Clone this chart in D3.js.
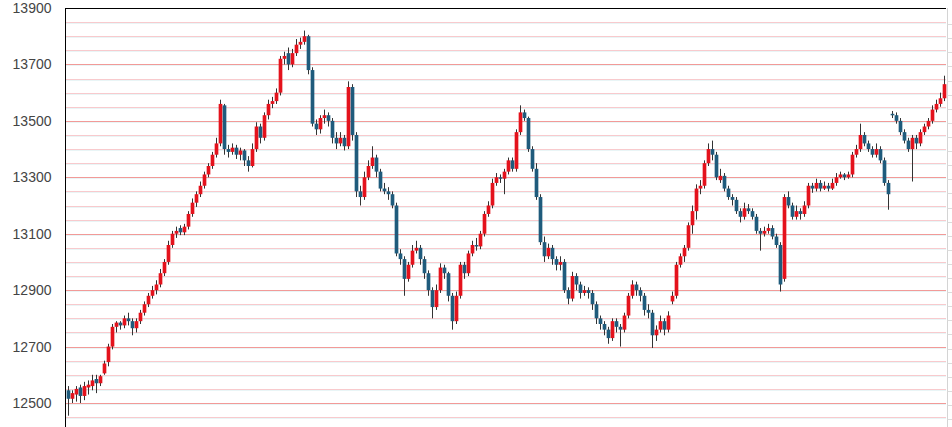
<!DOCTYPE html>
<html><head><meta charset="utf-8">
<script src="https://cdn.jsdelivr.net/npm/d3@7"></script>
<style>html,body{margin:0;padding:0;background:#fff;}svg{display:block;}</style>
</head><body>
<svg id="c" width="952" height="427"></svg>
<script>
const open = [12545,12515,12530,12555,12525,12555,12560,12585,12570,12605,12645,12700,12770,12785,12775,12800,12790,12765,12790,12820,12850,12880,12900,12920,12960,13000,13060,13100,13120,13105,13125,13170,13210,13240,13270,13310,13340,13380,13420,13555,13400,13390,13405,13380,13395,13360,13340,13400,13480,13440,13520,13560,13570,13600,13720,13740,13700,13740,13770,13780,13800,13680,13490,13470,13510,13520,13500,13440,13420,13440,13410,13620,13450,13250,13230,13300,13340,13370,13320,13260,13250,13240,13200,13030,13010,12940,12990,13040,13050,13010,12960,12900,12840,12900,12980,12960,12880,12790,12880,12990,12960,13030,13060,13055,13100,13170,13200,13280,13300,13295,13320,13360,13330,13460,13530,13510,13400,13330,13230,13070,13020,13050,13010,12990,13000,12900,12870,12950,12920,12890,12900,12890,12850,12800,12780,12760,12730,12790,12770,12760,12810,12880,12920,12900,12880,12830,12820,12740,12760,12790,12760,12860,12880,12990,13020,13050,13130,13180,13260,13270,13350,13400,13380,13290,13305,13260,13230,13220,13180,13160,13190,13180,13160,13110,13100,13110,13120,13090,13060,12940,13230,13200,13160,13180,13170,13200,13270,13260,13280,13260,13270,13260,13280,13300,13310,13300,13310,13380,13400,13450,13420,13400,13380,13400,13360,13280,13525,13520,13500,13460,13430,13400,13440,13420,13460,13480,13500,13540,13560,13580];
const high = [12560,12545,12560,12565,12575,12580,12600,12600,12600,12650,12710,12780,12790,12790,12810,12820,12800,12800,12830,12860,12890,12915,12935,12975,13010,13075,13110,13125,13130,13135,13180,13225,13250,13285,13320,13350,13390,13440,13575,13560,13415,13420,13415,13405,13400,13375,13420,13495,13490,13530,13575,13585,13615,13730,13745,13760,13755,13790,13795,13820,13805,13690,13505,13520,13540,13530,13510,13460,13460,13450,13640,13630,13460,13270,13320,13360,13410,13380,13330,13280,13265,13250,13210,13045,13020,13000,13060,13075,13060,13020,12970,12910,12920,12995,12990,12965,12890,12895,13000,13000,13040,13075,13085,13110,13180,13215,13295,13315,13310,13330,13370,13370,13470,13555,13540,13515,13410,13350,13240,13090,13065,13060,13020,13020,13010,12910,12965,12960,12930,12915,12910,12900,12860,12810,12790,12770,12800,12800,12780,12820,12890,12935,12930,12910,12890,12850,12830,12775,12810,12800,12825,12895,13000,13030,13060,13140,13200,13275,13290,13360,13420,13430,13390,13330,13315,13270,13240,13230,13190,13210,13205,13190,13170,13120,13125,13135,13130,13100,13070,13240,13250,13210,13200,13190,13215,13280,13280,13295,13290,13285,13280,13295,13315,13320,13315,13320,13390,13415,13490,13460,13430,13410,13420,13410,13370,13290,13535,13530,13510,13470,13440,13450,13450,13470,13490,13510,13555,13575,13600,13660];
const low = [12455,12500,12505,12500,12510,12530,12545,12535,12560,12600,12630,12690,12750,12760,12765,12775,12740,12750,12780,12810,12840,12870,12885,12910,12950,12990,13050,13085,13095,13095,13115,13160,13195,13230,13260,13300,13330,13370,13410,13380,13370,13380,13365,13360,13340,13320,13335,13390,13420,13430,13505,13545,13560,13590,13700,13680,13690,13730,13755,13770,13665,13480,13450,13455,13490,13480,13420,13400,13410,13395,13400,13430,13230,13200,13220,13290,13330,13300,13250,13240,13220,13190,13020,12990,12880,12930,12980,13030,12990,12940,12880,12800,12830,12890,12940,12860,12760,12780,12870,12940,12950,13020,13040,13045,13090,13160,13190,13270,13280,13240,13310,13320,13320,13450,13500,13390,13320,13220,13060,13000,13010,12990,12970,12970,12890,12850,12860,12900,12870,12880,12870,12830,12780,12760,12740,12710,12720,12750,12700,12750,12800,12870,12880,12860,12810,12800,12695,12720,12750,12740,12750,12850,12870,12980,13000,13040,13100,13150,13240,13260,13340,13360,13290,13280,13250,13220,13200,13170,13140,13150,13170,13150,13100,13040,13090,13100,13080,13050,12895,12930,13190,13150,13150,13150,13160,13190,13245,13250,13250,13255,13250,13255,13270,13295,13290,13295,13300,13370,13390,13410,13390,13370,13370,13350,13270,13185,13510,13490,13450,13420,13390,13285,13400,13410,13450,13470,13490,13530,13550,13570];
const close = [12515,12535,12550,12525,12560,12565,12580,12570,12595,12640,12700,12770,12785,12775,12800,12790,12765,12790,12820,12850,12880,12900,12920,12960,13000,13060,13100,13110,13105,13125,13170,13210,13240,13270,13310,13340,13380,13420,13560,13400,13390,13405,13380,13395,13360,13340,13400,13480,13440,13520,13560,13570,13600,13720,13730,13700,13740,13770,13780,13800,13680,13490,13470,13510,13520,13500,13440,13420,13440,13410,13620,13450,13250,13230,13300,13340,13370,13320,13260,13250,13240,13200,13030,13010,12940,12990,13040,13050,13010,12960,12900,12840,12900,12980,12960,12880,12790,12880,12990,12960,13030,13060,13055,13100,13170,13200,13280,13300,13295,13320,13360,13330,13460,13530,13510,13400,13330,13230,13070,13020,13050,13010,12990,13000,12900,12870,12950,12920,12890,12900,12890,12850,12800,12780,12760,12730,12790,12770,12760,12810,12880,12920,12900,12880,12830,12820,12740,12760,12790,12760,12810,12880,12990,13020,13050,13130,13180,13260,13270,13350,13400,13380,13300,13305,13260,13230,13220,13180,13160,13190,13180,13160,13110,13100,13110,13120,13090,13060,12920,13230,13200,13160,13180,13170,13200,13270,13260,13280,13260,13270,13260,13280,13300,13310,13300,13310,13380,13400,13450,13420,13400,13380,13400,13360,13280,13240,13520,13500,13460,13430,13400,13440,13420,13460,13480,13500,13540,13560,13580,13630];
const tickValues = [12500,12700,12900,13100,13300,13500,13700,13900];
const gridStep = 50;

const svg = d3.select('#c');
const xLeft = 65.5, xRight = 946;
const y = d3.scaleLinear().domain([12500, 13900]).range([403, 8]);
const x = d3.scaleBand().domain(d3.range(close.length)).range([66, 946]).paddingInner(0.08).paddingOuter(0.1);

// grid
const gridVals = d3.range(12450, 13900, gridStep);
const g = svg.append('g');
gridVals.forEach(v => {
  const yy = Math.round(y(v)) + 0.5;
  const major = ((v - 12500) % 200) === 0;
  g.append('line').attr('x1', 66).attr('x2', xRight).attr('y1', yy + 1).attr('y2', yy + 1)
    .attr('stroke', '#e9f5f6').attr('stroke-width', 1);
  g.append('line').attr('x1', 66).attr('x2', xRight).attr('y1', yy).attr('y2', yy)
    .attr('stroke', major ? '#f29a98' : '#f8cacd').attr('stroke-width', 1);
});

// right light axis
const rx = 947.5;
svg.append('line').attr('x1', rx).attr('x2', rx).attr('y1', 8).attr('y2', 427).attr('stroke', '#d4d4d4');
gridVals.forEach(v => {
  const yy = Math.round(y(v)) + 2.5;
  svg.append('line').attr('x1', rx).attr('x2', 952).attr('y1', yy).attr('y2', yy).attr('stroke', '#dcdcdc');
});

// candles
const idx = d3.range(close.length);
const cx = i => Math.round(x(i) + x.bandwidth() / 2) + 0.5;
const cg = svg.append('g');
cg.selectAll('line.w').data(idx).join('line').attr('class', 'w')
  .attr('x1', cx).attr('x2', cx)
  .attr('y1', i => y(high[i])).attr('y2', i => y(low[i]))
  .attr('stroke', '#333').attr('stroke-width', 1);
cg.selectAll('rect').data(idx).join('rect')
  .attr('x', i => cx(i) - x.bandwidth() / 2)
  .attr('width', x.bandwidth())
  .attr('y', i => y(Math.max(open[i], close[i])))
  .attr('height', i => Math.max(1.5, Math.abs(y(open[i]) - y(close[i]))))
  .attr('fill', i => close[i] >= open[i] ? '#e4121c' : '#1f5b7c');

// frame
svg.append('line').attr('x1', xLeft).attr('x2', xRight).attr('y1', 8.5).attr('y2', 8.5).attr('stroke', '#000');
svg.append('line').attr('x1', xLeft).attr('x2', xLeft).attr('y1', 8).attr('y2', 427).attr('stroke', '#000');

// labels
const ax = d3.axisLeft(y).tickValues(tickValues).tickSize(0).tickPadding(14).tickFormat(d3.format('d'));
const axg = svg.append('g').attr('transform', `translate(${xLeft},0)`).call(ax);
axg.select('.domain').remove();
axg.selectAll('text').attr('font-family', 'Liberation Sans, Arial, sans-serif').attr('font-size', 14).attr('fill', '#444');
</script>
</body></html>
